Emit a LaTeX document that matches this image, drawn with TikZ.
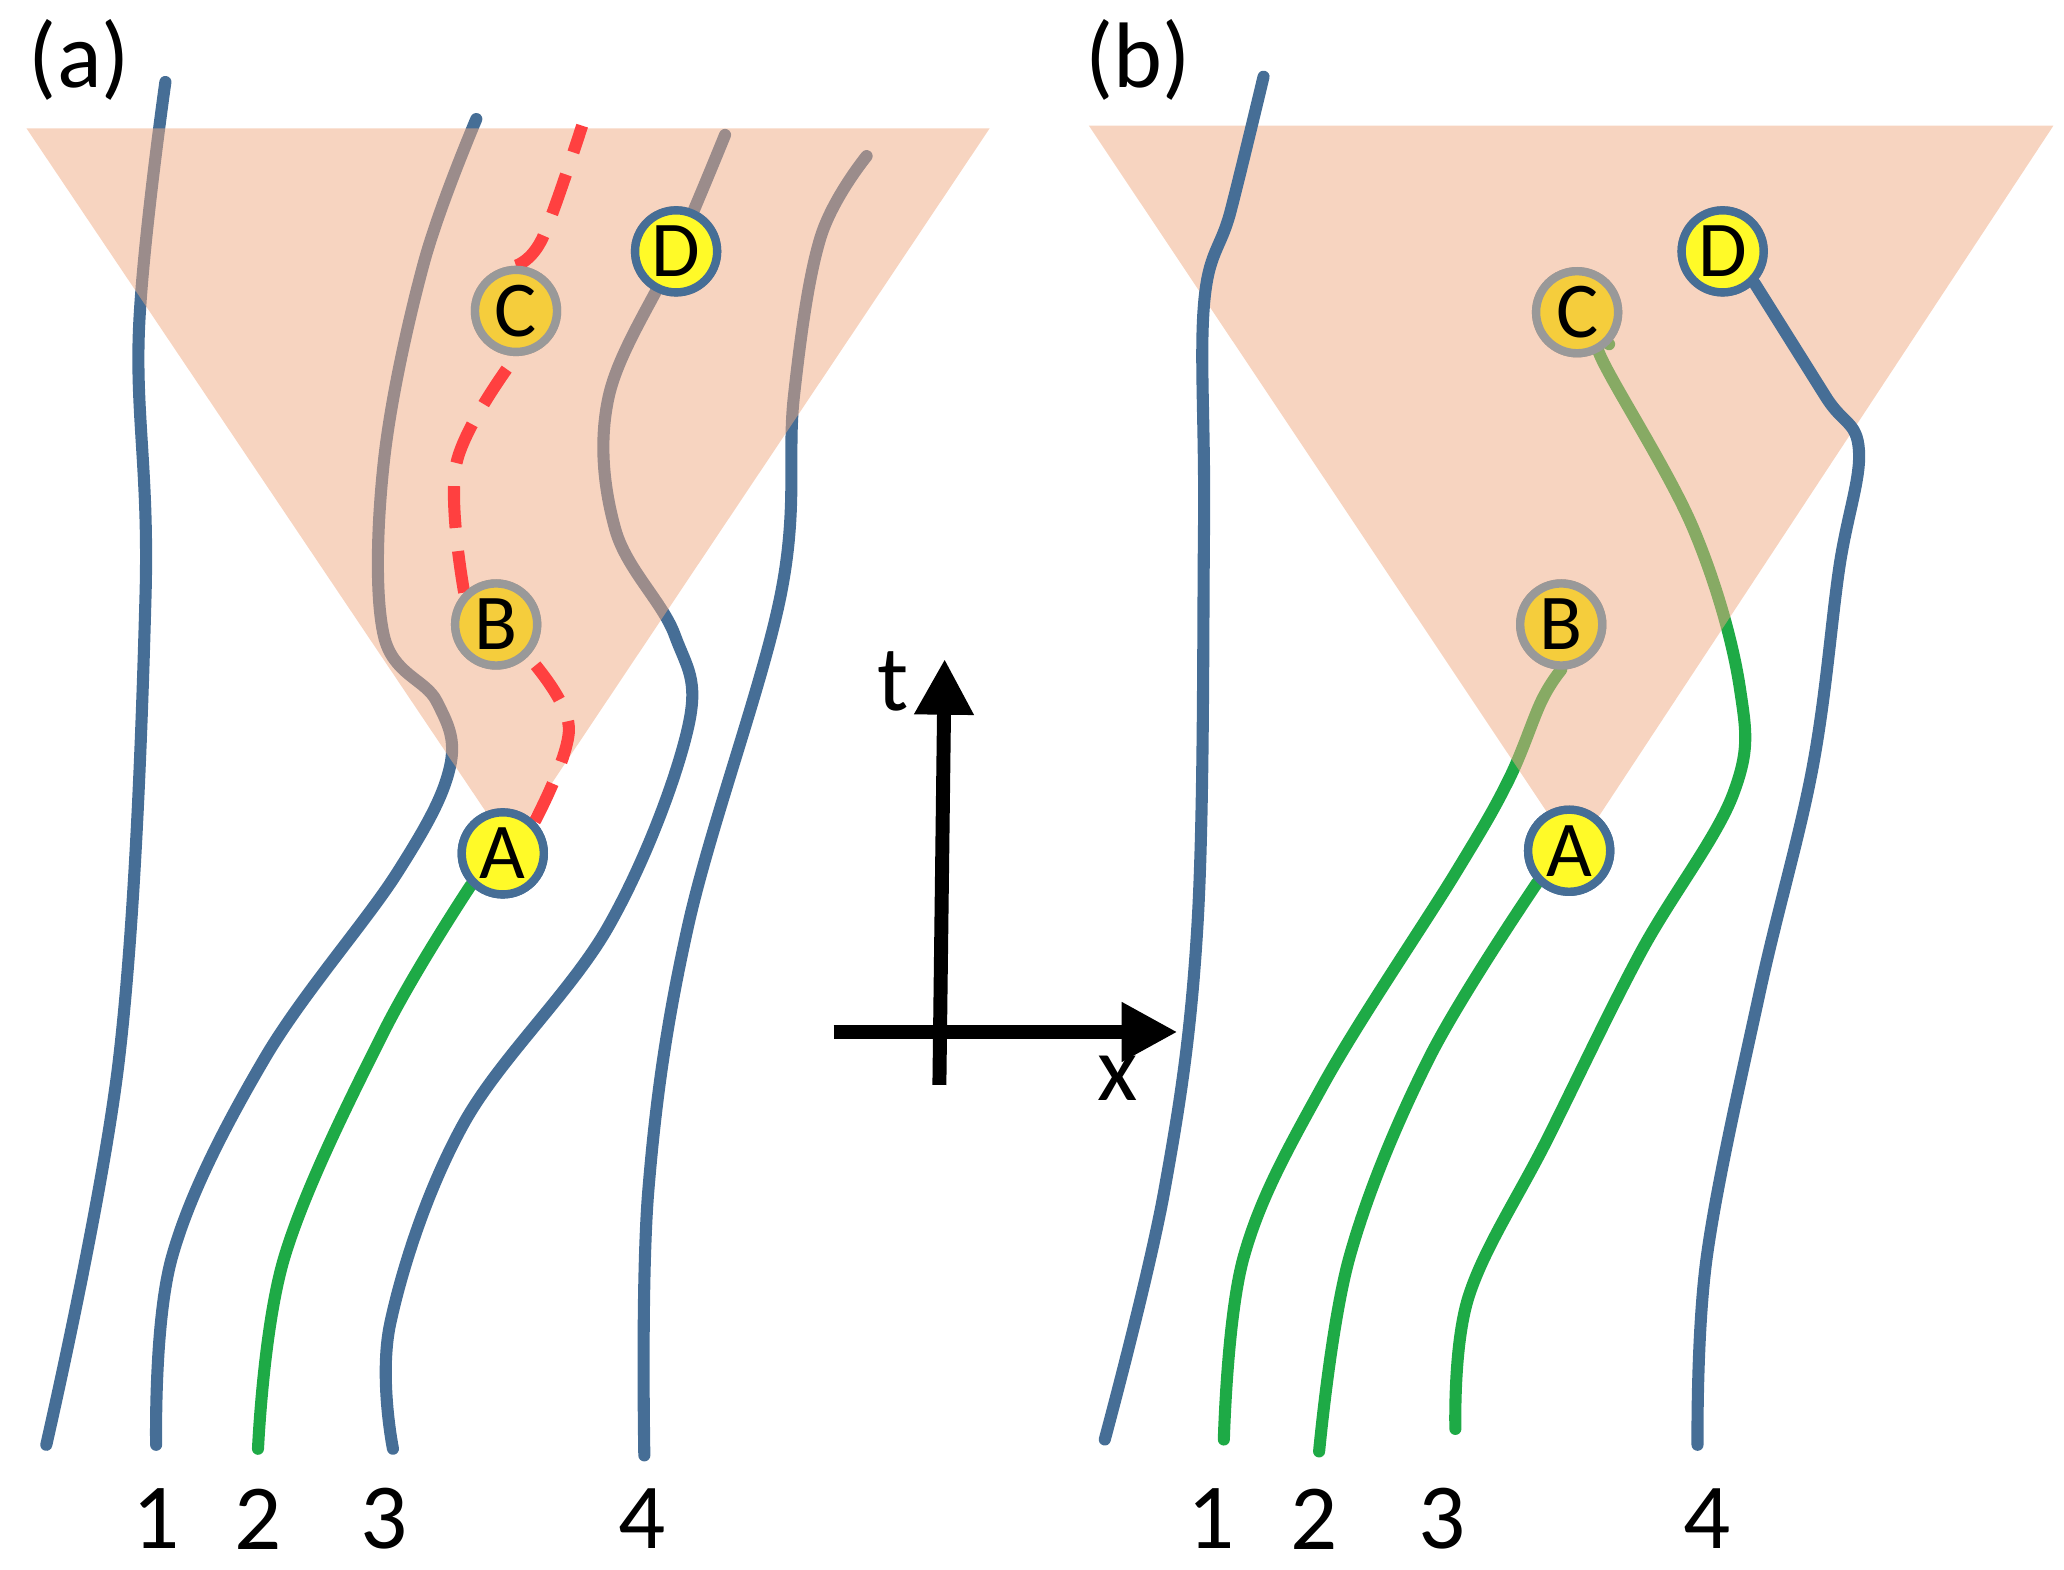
\documentclass[tikz,border=0pt]{standalone}
\usepackage{fontspec}
\setmainfont{Carlito}
\usetikzlibrary{arrows.meta}
\definecolor{lb}{RGB}{70,110,150}
\definecolor{lg}{RGB}{30,170,70}
\definecolor{tri}{RGB}{240,170,130}
\definecolor{gold}{RGB}{245,205,60}
\definecolor{yel}{RGB}{255,250,40}
\begin{document}
\begin{tikzpicture}[x=0.01cm,y=-0.01cm,
 wl/.style={line width=2.6pt,line cap=round},
 bl/.style={wl,draw=lb},
 gl/.style={wl,draw=lg},
 rl/.style={wl,draw=red!75!white,line cap=butt,dash pattern=on 9pt off 5pt},
 tr/.style={fill=tri,fill opacity=0.5,draw=none},
 cy/.style={circle,minimum size=0.62cm,inner sep=0pt,fill=yel,draw=lb,line width=1.8pt,font=\fontsize{17}{17}\selectfont},
 cg/.style={cy,fill=gold,draw=gray!80},
 lab/.style={font=\fontsize{20}{20}\selectfont}]
\useasboundingbox (0,0) rectangle (1560,1186);
% panel a
\draw[bl] plot[smooth,tension=0.6] coordinates{(35,1092)(90,800)(110,450)(105,250)(125,62)};
\draw[bl] plot[smooth,tension=0.6] coordinates{(118,1092)(130,950)(200,800)(300,660)(340,580)(330,530)(290,480)(290,350)(320,200)(360,90)};
\draw[bl] plot[smooth,tension=0.6] coordinates{(297,1095)(295,1000)(350,850)(460,700)(520,550)(510,480)(465,400)(460,300)(511,190)(548,102)};
\draw[bl] plot[smooth,tension=0.6] coordinates{(487,1100)(490,900)(520,700)(590,450)(600,300)(620,180)(655,118)};
\node[cy] (A) at (380,645) {A};
\node[cg] (B) at (375,472) {B};
\node[cg] (C) at (390,235) {C};
\node[cy] (D) at (511,190) {D};
\draw[gl] plot[smooth,tension=0.6] coordinates{(195,1095)(215,950)(290,780)(A.south west)};
\fill[tr] (20,97) -- (748,97) -- (385,640) -- cycle;
\draw[rl] plot[smooth,tension=0.6] coordinates{(A.north east)(430,550)(B.south east)};
\draw[rl] plot[smooth,tension=0.6] coordinates{(B.north west)(345,350)(C.south)};
\draw[rl] plot[smooth,tension=0.6] coordinates{(C.north)(410,180)(440,95)};
\node[cy] at (A) {A};
\node[cg] at (B) {B};
\node[cg] at (C) {C};
\node[cy] at (D) {D};
% panel b
\node[cy] (A2) at (1186,643) {A};
\node[cg] (B2) at (1180,472) {B};
\node[cg] (C2) at (1192,236) {C};
\node[cy] (D2) at (1302,190) {D};
\draw[gl] plot[smooth,tension=0.6] coordinates{(925,1088)(940,950)(1000,820)(1100,660)(1140,590)(1165,530)(B2.south)};
\draw[gl] plot[smooth,tension=0.6] coordinates{(997,1097)(1020,950)(1080,800)(A2.south west)};
\draw[gl] plot[smooth,tension=0.6] coordinates{(1100,1080)(1110,980)(1170,860)(1240,720)(1310,600)(1315,520)(1280,400)(1210,270)(C2.south east)};
\fill[tr] (823,95) -- (1552,95) -- (1190,645) -- cycle;
\draw[bl] plot[smooth,tension=0.6] coordinates{(835,1088)(880,900)(905,700)(910,400)(910,230)(930,160)(955,58)};
\draw[bl] plot[smooth,tension=0.6] coordinates{(1283,1092)(1290,950)(1330,750)(1370,580)(1390,430)(1405,340)(1380,300)(D2.south east)};
\node[cy] at (A2) {A};
\node[cg] at (B2) {B};
\node[cg] at (C2) {C};
\node[cy] at (D2) {D};
% labels
\foreach \n/\x in {1/118,2/195,3/290,4/485,1/915,2/993,3/1090,4/1290}
  \node[lab] (l\n\x) at (\x,1148) {\n};
\node[lab] (pa) at (60,45) {(a)};
\node[lab] (pb) at (860,45) {(b)};
% axes
\coordinate (xo) at (630,780); \coordinate (xe) at (890,780);
\coordinate (to) at (710,820); \coordinate (te) at (714,498);
\draw[line width=3pt,-{Triangle[length=12pt,width=12pt]}] (xo) -- (xe);
\draw[line width=3pt,-{Triangle[length=12pt,width=12pt]}] (to) -- (te);
\node[lab] (tl) at (675,515) {t};
\node[lab] (xl) at (845,815) {x};
\end{tikzpicture}
\end{document}
